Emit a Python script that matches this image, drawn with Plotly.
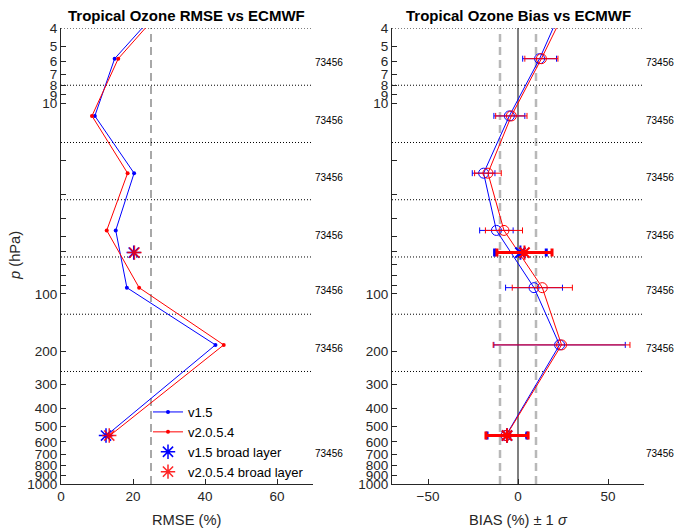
import math
import plotly.graph_objects as go

# ---------------- data ----------------
p_prof = [2.9, 5.8, 11.6, 23.2, 46.4, 92.8, 185.6, 556]
rmse_v15 = [29.2, 14.9, 9.4, 20.3, 15.2, 18.3, 42.9, 12.6]
rmse_v2054 = [30.0, 15.9, 8.6, 18.5, 12.7, 21.7, 45.2, 13.6]
bias_v15 = [26.1, 12.0, -4.8, -19.1, -12.0, 8.9, 23.1, -6.7]
bias_v2054 = [28.6, 13.0, -3.7, -16.7, -7.8, 13.5, 24.2, -6.5]
sig_v15 = [9.0, 9.4, 8.6, 6.3, 9.3, 15.8, 36.5, 11.0]
sig_v2054 = [9.0, 9.2, 8.7, 7.4, 10.3, 16.7, 38.0, 11.5]

p_broad = [60.7, 556]
rmse_broad_v15 = [20.2, 12.5]
rmse_broad_v2054 = [20.4, 13.4]
bias_broad_v15 = [1.35, -6.1]
bias_broad_v2054 = [3.6, -6.1]
sig_broad_v15 = [14.35, 11.1]
sig_broad_v2054 = [15.3, 11.7]

layer_edges = [4, 8, 16, 32, 64, 128, 256]
count_p = [6.09, 12.2, 24.4, 49.4, 96.2, 195, 689]
counts = ["73456", "73456", "73456", "73456", "73456", "73456", "73456"]

ytick_vals = [4, 5, 6, 7, 8, 9, 10, 20, 30, 40, 50, 60, 70, 80, 90,
              100, 200, 300, 400, 500, 600, 700, 800, 900, 1000]
ytick_text = ["4", "5", "6", "7", "8", "9", "10", "", "", "", "", "", "", "", "",
              "100", "200", "300", "400", "500", "600", "700", "800", "900", "1000"]

rmse_range = [0, 70]
bias_range = [-70, 70]
rmse_ref = 25
bias_refs = [-10, 10]

# ---------------- figure ----------------
W, H = 674, 529
FONT = "Liberation Sans, Arial, Helvetica, sans-serif"
AX = "#262626"
BLUE = "#0000ff"
RED = "#ff0000"


def fx(px):
    return px / W


def fy(py):
    return 1 - py / H


fig = go.Figure()

# layer boundary dotted lines (drawn first, below data)
for ax_x, ax_y, xr in (("x", "y", rmse_range), ("x2", "y2", bias_range)):
    xs, ys = [], []
    for e in layer_edges:
        xs += [xr[0], xr[1], None]
        ys += [e, e, None]
    fig.add_trace(go.Scatter(x=xs, y=ys, mode="lines", showlegend=False, hoverinfo="skip",
                             line=dict(color="black", width=1, dash="1px,2px"),
                             cliponaxis=False, xaxis=ax_x, yaxis=ax_y))

# left panel profiles
fig.add_trace(go.Scatter(x=rmse_v15, y=p_prof, mode="lines+markers", name="v1.5",
                         line=dict(color=BLUE, width=1), marker=dict(size=4, color=BLUE),
                         xaxis="x", yaxis="y"))
fig.add_trace(go.Scatter(x=rmse_v2054, y=p_prof, mode="lines+markers", name="v2.0.5.4",
                         line=dict(color=RED, width=1), marker=dict(size=4, color=RED),
                         xaxis="x", yaxis="y"))
fig.add_trace(go.Scatter(x=rmse_broad_v15, y=p_broad, mode="markers", name="v1.5 broad layer",
                         marker=dict(symbol="asterisk-open", size=12, color=BLUE,
                                     line=dict(color=BLUE, width=1.5)),
                         xaxis="x", yaxis="y"))
fig.add_trace(go.Scatter(x=rmse_broad_v2054, y=p_broad, mode="markers", name="v2.0.5.4 broad layer",
                         marker=dict(symbol="asterisk-open", size=12, color=RED,
                                     line=dict(color=RED, width=1.5)),
                         opacity=0.85, xaxis="x", yaxis="y"))

# right panel profiles
fig.add_trace(go.Scatter(x=bias_v15, y=p_prof, mode="lines+markers", showlegend=False,
                         line=dict(color=BLUE, width=1),
                         marker=dict(symbol="circle-open", size=10, color=BLUE, line=dict(width=1)),
                         error_x=dict(type="data", array=sig_v15, color=BLUE, thickness=1, width=3),
                         xaxis="x2", yaxis="y2"))
fig.add_trace(go.Scatter(x=bias_v2054, y=p_prof, mode="lines+markers", showlegend=False,
                         line=dict(color=RED, width=1),
                         marker=dict(symbol="circle-open", size=10, color=RED, line=dict(width=1)),
                         error_x=dict(type="data", array=sig_v2054, color=RED, thickness=1, width=3),
                         xaxis="x2", yaxis="y2"))
fig.add_trace(go.Scatter(x=bias_broad_v15, y=p_broad, mode="markers", showlegend=False,
                         marker=dict(symbol="asterisk-open", size=12, color=BLUE,
                                     line=dict(color=BLUE, width=2)),
                         error_x=dict(type="data", array=sig_broad_v15, color=BLUE, thickness=3, width=4),
                         xaxis="x2", yaxis="y2"))
fig.add_trace(go.Scatter(x=bias_broad_v2054, y=p_broad, mode="markers", showlegend=False,
                         marker=dict(symbol="asterisk-open", size=12, color=RED,
                                     line=dict(color=RED, width=2)),
                         error_x=dict(type="data", array=sig_broad_v2054, color=RED, thickness=3, width=4),
                         xaxis="x2", yaxis="y2"))

shapes = []
shapes.append(dict(type="line", xref="x", x0=rmse_ref, x1=rmse_ref, yref="y domain", y0=0, y1=1,
                   line=dict(color="#8c8c8c", width=1.5, dash="8px,5px"), layer="below"))
for r in bias_refs:
    shapes.append(dict(type="line", xref="x2", x0=r, x1=r, yref="y2 domain", y0=0, y1=1,
                       line=dict(color="#b8b8b8", width=2.5, dash="8px,5px"), layer="below"))
shapes.append(dict(type="line", xref="x2", x0=0, x1=0, yref="y2 domain", y0=0, y1=1,
                   line=dict(color="#808080", width=2), layer="below"))

annotations = []
for ax_x, ax_y in (("x", "y"), ("x2", "y2")):
    for pc, c in zip(count_p, counts):
        annotations.append(dict(text=c, xref=ax_x + " domain", x=1.0, xanchor="left",
                                yref=ax_y, y=math.log10(pc), yanchor="middle", showarrow=False,
                                font=dict(size=10, color="black", family=FONT)))

annotations += [
    dict(text="<b>Tropical Ozone RMSE vs ECMWF</b>", xref="paper", yref="paper",
         x=fx(187), y=fy(15), xanchor="center", yanchor="middle", showarrow=False,
         font=dict(size=15, color="black", family=FONT)),
    dict(text="<b>Tropical Ozone Bias vs ECMWF</b>", xref="paper", yref="paper",
         x=fx(518), y=fy(15), xanchor="center", yanchor="middle", showarrow=False,
         font=dict(size=15, color="black", family=FONT)),
    dict(text="RMSE (%)", xref="paper", yref="paper", x=fx(187), y=fy(520),
         xanchor="center", yanchor="middle", showarrow=False,
         font=dict(size=14.7, color=AX, family=FONT)),
    dict(text="BIAS (%) \u00b1 1 <i>\u03c3</i>", xref="paper", yref="paper", x=fx(518), y=fy(520),
         xanchor="center", yanchor="middle", showarrow=False,
         font=dict(size=14.7, color=AX, family=FONT)),
    dict(text="<i>p</i> (hPa)", xref="paper", yref="paper", x=fx(15), y=fy(256),
         xanchor="center", yanchor="middle", showarrow=False, textangle=-90,
         font=dict(size=14.7, color=AX, family=FONT)),
]

yaxis_common = dict(type="log", range=[math.log10(1000), math.log10(4)],
                    tickvals=ytick_vals, ticktext=ytick_text, ticks="inside", ticklen=5,
                    tickcolor=AX, showline=True, linecolor=AX, linewidth=1, showgrid=False,
                    zeroline=False, tickfont=dict(size=13.5, color=AX, family=FONT),
                    automargin=False)
xaxis_common = dict(ticks="inside", ticklen=5, tickcolor=AX, showline=True, linecolor=AX,
                    linewidth=1, showgrid=False, zeroline=False,
                    tickfont=dict(size=13.5, color=AX, family=FONT), automargin=False)

fig.update_layout(
    width=W, height=H,
    margin=dict(l=0, r=0, t=0, b=0),
    paper_bgcolor="white", plot_bgcolor="white",
    font=dict(family=FONT, color=AX),
    xaxis=dict(domain=[fx(61), fx(313)], range=rmse_range, tickvals=[0, 20, 40, 60],
               anchor="y", **xaxis_common),
    yaxis=dict(domain=[fy(484), fy(28)], anchor="x", **yaxis_common),
    xaxis2=dict(domain=[fx(392), fx(644)], range=bias_range, tickvals=[-50, 0, 50],
                anchor="y2", **xaxis_common),
    yaxis2=dict(domain=[fy(484), fy(28)], anchor="x2", **yaxis_common),
    shapes=shapes,
    annotations=annotations,
    showlegend=True,
    legend=dict(x=fx(148), y=fy(397), xanchor="left", yanchor="top",
                bgcolor="rgba(0,0,0,0)", borderwidth=0,
                font=dict(size=13, color="black", family=FONT), tracegroupgap=0),
)

fig.write_html("out.html")
